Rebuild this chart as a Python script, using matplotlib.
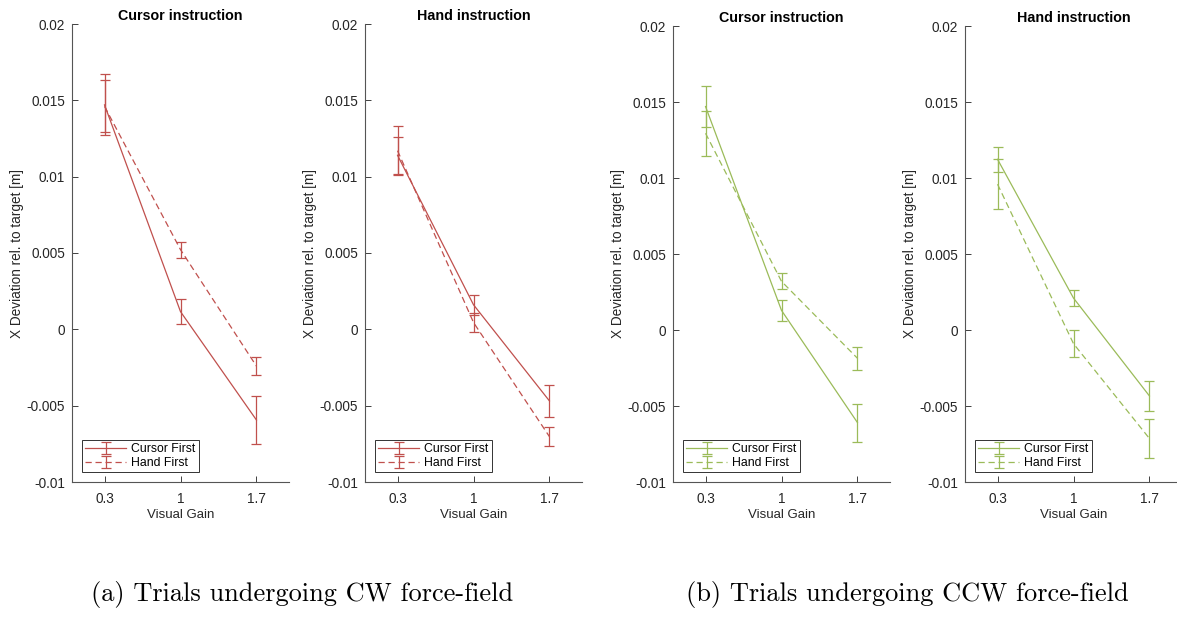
import numpy as np
from matplotlib import use
use('Agg')
from matplotlib import pyplot as plt

#Visual gain levels and y tick labels
gains = [0.3, 1, 1.7]
gain_labels = ['0.3', '1', '1.7']
y_ticks = [0.02, 0.015, 0.01, 0.005, 0, -0.005, -0.01]
y_labels = ['0.02', '0.015', '0.01', '0.005', '0', '-0.005', '-0.01']

#CW force-field, cursor instruction
cw_cursor_cf = [0.0147, 0.00116, -0.00594]
cw_cursor_cf_err = [0.0020, 0.00083, 0.00155]
cw_cursor_hf = [0.0146, 0.00522, -0.00241]
cw_cursor_hf_err = [0.0017, 0.00053, 0.0006]

#CW force-field, hand instruction
cw_hand_cf = [0.0114, 0.00161, -0.00469]
cw_hand_cf_err = [0.0012, 0.00067, 0.00105]
cw_hand_hf = [0.0117, 0.00045, -0.00703]
cw_hand_hf_err = [0.0016, 0.00061, 0.00062]

#CCW force-field, cursor instruction
ccw_cursor_cf = [0.0147, 0.00129, -0.00609]
ccw_cursor_cf_err = [0.00132, 0.00067, 0.00125]
ccw_cursor_hf = [0.01294, 0.0032, -0.00186]
ccw_cursor_hf_err = [0.00147, 0.00053, 0.00076]

#CCW force-field, hand instruction
ccw_hand_cf = [0.01123, 0.0021, -0.00434]
ccw_hand_cf_err = [0.00082, 0.00052, 0.00097]
ccw_hand_hf = [0.00959, -0.0009, -0.00714]
ccw_hand_hf_err = [0.00166, 0.0009, 0.00128]

red = '#C0504D'
green = '#9BBB59'

plt.rcParams['font.family'] = ['Liberation Sans', 'DejaVu Sans']

W, H = 1177, 619
fig = plt.figure(figsize=(W/100, H/100), dpi=100)

def add_panel(left_px, top_px, title, cf, cf_err, hf, hf_err, color):
    bottom_px = 482
    ax = fig.add_axes([left_px/W, 1 - bottom_px/H, 217/W, (bottom_px - top_px)/H])
    ax.errorbar(gains, cf, yerr=cf_err, color=color, lw=0.9, elinewidth=0.9,
                capsize=3.8, capthick=0.9, label='Cursor First')
    ax.errorbar(gains, hf, yerr=hf_err, color=color, lw=0.9, elinewidth=0.9,
                capsize=3.8, capthick=0.9, ls=(0, (5, 3)), label='Hand First')
    ax.set_xlim(0, 2)
    ax.set_ylim(-0.01, 0.02)
    ax.set_xticks(gains)
    ax.set_xticklabels(gain_labels)
    ax.set_yticks(y_ticks)
    ax.set_yticklabels(y_labels)
    ax.tick_params(direction='in', length=4, width=0.7, labelsize=9.8,
                   colors='#404040', labelcolor='#262626', pad=5)
    ax.tick_params(axis='x', pad=7)
    for side in ['top', 'right']:
        ax.spines[side].set_visible(False)
    for side in ['left', 'bottom']:
        ax.spines[side].set_color('#555555')
        ax.spines[side].set_linewidth(0.8)
    ax.set_title(title, fontsize=10.3, fontweight='bold', pad=3)
    ax.set_xlabel('Visual Gain', fontsize=9.5, color='#262626', labelpad=2)
    ax.set_ylabel('X Deviation rel. to target [m]', fontsize=9.8, color='#262626', labelpad=2)
    leg = ax.legend(loc='lower left', fontsize=8.8, frameon=True, fancybox=False,
                    framealpha=1, edgecolor='#333333', handlelength=3.4,
                    borderaxespad=0.8, borderpad=0.25, labelspacing=0.15,
                    handletextpad=0.4)
    leg.get_frame().set_linewidth(0.7)
    return ax

add_panel(72, 24, 'Cursor instruction', cw_cursor_cf, cw_cursor_cf_err,
          cw_cursor_hf, cw_cursor_hf_err, red)
add_panel(365, 24, 'Hand instruction', cw_hand_cf, cw_hand_cf_err,
          cw_hand_hf, cw_hand_hf_err, red)
add_panel(673, 26, 'Cursor instruction', ccw_cursor_cf, ccw_cursor_cf_err,
          ccw_cursor_hf, ccw_cursor_hf_err, green)
add_panel(965, 26, 'Hand instruction', ccw_hand_cf, ccw_hand_cf_err,
          ccw_hand_hf, ccw_hand_hf_err, green)

#Sub-figure captions
fig.text(302/W, 1 - 594/H, '(a) Trials undergoing CW force-field',
         family='cmr10', fontsize=19, ha='center', va='center')
fig.text(907/W, 1 - 594/H, '(b) Trials undergoing CCW force-field',
         family='cmr10', fontsize=19, ha='center', va='center')

plt.savefig('out.png', dpi=100)
